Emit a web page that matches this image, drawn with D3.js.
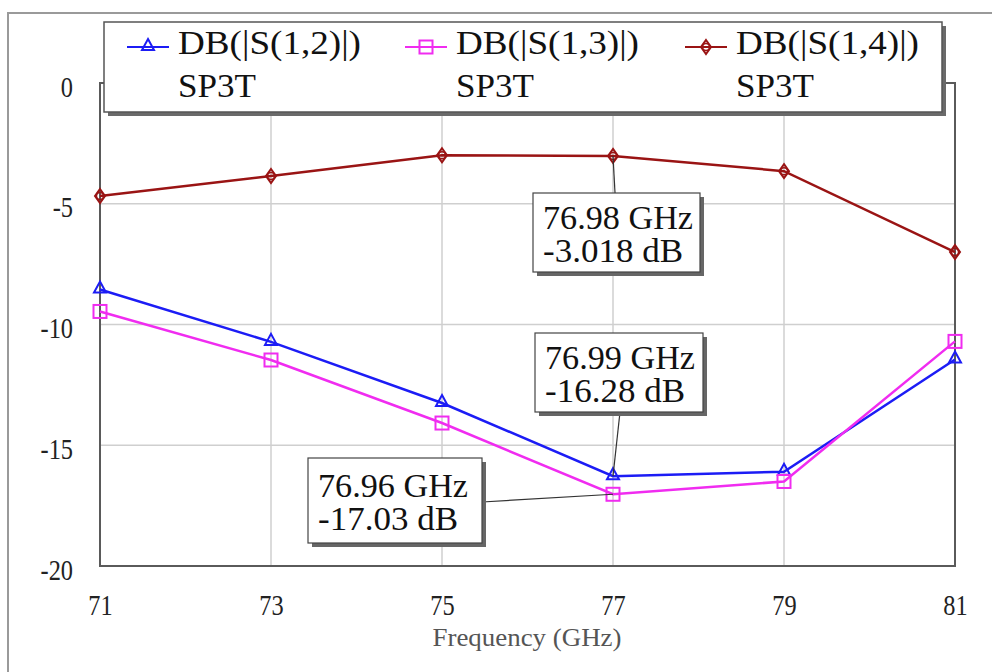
<!DOCTYPE html>
<html>
<head>
<meta charset="utf-8">
<script src="https://cdn.jsdelivr.net/npm/d3@7/dist/d3.min.js"></script>
<style>
  html, body { margin: 0; padding: 0; background: #fff; }
  svg { display: block; }
  text { font-family: "Liberation Serif", "Times New Roman", serif; }
</style>
</head>
<body>
<script>
// ---- Data ----
const freqs = [71, 73, 75, 77, 79, 81];
const s12 = [-8.55, -10.72, -13.25, -16.28, -16.1, -11.45];
const s13 = [-9.46, -11.47, -14.08, -17.03, -16.5, -10.7];
const s14 = [-4.68, -3.85, -2.99, -3.018, -3.65, -7.0];
const xTicks = [71, 73, 75, 77, 79, 81];
const yTicks = [0, -5, -10, -15, -20];
const seriesNames = ["DB(|S(1,2)|)", "DB(|S(1,3)|)", "DB(|S(1,4)|)"];
const seriesSub = ["SP3T", "SP3T", "SP3T"];
const markerLabels = [
  { series: 2, idx: 3, l1: "76.98 GHz", l2: "-3.018 dB" },
  { series: 0, idx: 3, l1: "76.99 GHz", l2: "-16.28 dB" },
  { series: 1, idx: 3, l1: "76.96 GHz", l2: "-17.03 dB" }
];
const xLabel = "Frequency (GHz)";

// ---- Layout ----
const W = 992, H = 672;
const L = 100, R = 955, T = 83, B = 566;
const colors = ["#1c1cf5", "#f02cf0", "#9a1414"];
const shapes = ["triangle", "square", "diamond"];
const allSeries = [s12, s13, s14];

const svg = d3.select("body").append("svg").attr("width", W).attr("height", H);

// outer frame
svg.append("path").attr("d", `M8,${H} L8,13 L${W},13`)
  .attr("fill", "none").attr("stroke", "#9a9a9a").attr("stroke-width", 2);

const x = d3.scaleLinear().domain([71, 81]).range([L, R]);
const y = d3.scaleLinear().domain([-20, 0]).range([B, T]);

// grid
svg.append("g").selectAll("line.v").data(xTicks.slice(1, -1)).join("line")
  .attr("x1", d => x(d)).attr("x2", d => x(d)).attr("y1", T).attr("y2", B)
  .attr("stroke", "#cfcfcf").attr("stroke-width", 1.5);
svg.append("g").selectAll("line.h").data(yTicks.slice(1, -1)).join("line")
  .attr("x1", L).attr("x2", R).attr("y1", d => y(d)).attr("y2", d => y(d))
  .attr("stroke", "#cfcfcf").attr("stroke-width", 1.5);

const fmt = d => String(d);

// axes (labels only)
const xAxis = svg.append("g").attr("transform", `translate(0,${B})`)
  .call(d3.axisBottom(x).tickValues(xTicks).tickSize(0).tickPadding(0).tickFormat(fmt))
  .attr("font-family", '"Liberation Serif", serif');
xAxis.select(".domain").remove();
xAxis.selectAll("text").attr("font-size", 29).attr("fill", "#222")
  .attr("dy", null).attr("y", 49);

const yAxis = svg.append("g").attr("transform", `translate(73,0)`)
  .call(d3.axisLeft(y).tickValues(yTicks).tickSize(0).tickPadding(0).tickFormat(fmt))
  .attr("font-family", '"Liberation Serif", serif');
yAxis.select(".domain").remove();
yAxis.selectAll("text").attr("font-size", 29).attr("fill", "#222")
  .attr("dy", null).attr("y", 13);

// condense tick labels slightly
svg.selectAll(".tick text").each(function () {
  const len = this.getComputedTextLength();
  d3.select(this).attr("textLength", len * 0.84).attr("lengthAdjust", "spacingAndGlyphs");
});

// x label
svg.append("text").attr("x", 527).attr("y", 646).attr("text-anchor", "middle")
  .attr("font-size", 26).attr("fill", "#555").attr("textLength", 189)
  .attr("lengthAdjust", "spacingAndGlyphs").text(xLabel);

// plot frame
svg.append("rect").attr("x", L).attr("y", T).attr("width", R - L).attr("height", B - T)
  .attr("fill", "none").attr("stroke", "#5a5a5a").attr("stroke-width", 2);

// marker drawing
function marker(g, shape, cx, cy, color) {
  if (shape === "triangle") {
    g.append("path").attr("d", `M${cx},${cy - 8} L${cx + 6},${cy + 3} L${cx - 6},${cy + 3} Z`)
      .attr("fill", "none").attr("stroke", color).attr("stroke-width", 2);
  } else if (shape === "square") {
    g.append("rect").attr("x", cx - 6.5).attr("y", cy - 6.5).attr("width", 13).attr("height", 13)
      .attr("fill", "none").attr("stroke", color).attr("stroke-width", 2);
  } else {
    g.append("path").attr("d", `M${cx},${cy - 7} L${cx + 5},${cy} L${cx},${cy + 7} L${cx - 5},${cy} Z`)
      .attr("fill", "none").attr("stroke", color).attr("stroke-width", 2);
    g.append("circle").attr("cx", cx).attr("cy", cy).attr("r", 3.5)
      .attr("fill", "none").attr("stroke", color).attr("stroke-width", 1.5);
  }
}

// series
const line = d3.line().x((d, i) => x(freqs[i])).y(d => y(d));
allSeries.forEach((s, k) => {
  const g = svg.append("g");
  g.append("path").datum(s).attr("d", line).attr("fill", "none")
    .attr("stroke", colors[k]).attr("stroke-width", 2.5);
  s.forEach((v, i) => marker(g, shapes[k], x(freqs[i]), y(v), colors[k]));
});

// legend
const lg = svg.append("g");
lg.append("rect").attr("x", 108).attr("y", 26).attr("width", 838).attr("height", 90).attr("fill", "#6a6a6a");
lg.append("rect").attr("x", 104).attr("y", 22).attr("width", 838).attr("height", 90)
  .attr("fill", "#fff").attr("stroke", "#555").attr("stroke-width", 1.5);
const legX = [127, 405, 685];
seriesNames.forEach((name, k) => {
  const lx = legX[k];
  lg.append("line").attr("x1", lx).attr("x2", lx + 42).attr("y1", 47).attr("y2", 47)
    .attr("stroke", colors[k]).attr("stroke-width", 2);
  marker(lg, shapes[k], lx + 21, 47, colors[k]);
  lg.append("text").attr("x", lx + 51).attr("y", 54).attr("font-size", 33).attr("fill", "#111")
    .attr("textLength", 183).attr("lengthAdjust", "spacingAndGlyphs").text(name);
  lg.append("text").attr("x", lx + 51).attr("y", 97).attr("font-size", 33).attr("fill", "#111")
    .attr("textLength", 78).attr("lengthAdjust", "spacingAndGlyphs").text(seriesSub[k]);
});

// annotation boxes
const boxes = [
  { x: 533, y: 193, w: 167, h: 79, ax: 615, ay: 193 },
  { x: 535, y: 333, w: 168, h: 79, ax: 620, ay: 412 },
  { x: 308, y: 458, w: 174, h: 85, ax: 482, ay: 502 }
];
markerLabels.forEach((m, i) => {
  const b = boxes[i];
  const px = x(freqs[m.idx]), py = y(allSeries[m.series][m.idx]);
  const g = svg.append("g");
  g.append("line").attr("x1", px).attr("y1", py).attr("x2", b.ax).attr("y2", b.ay)
    .attr("stroke", "#333").attr("stroke-width", 1.2);
  g.append("rect").attr("x", b.x + 4).attr("y", b.y + 4).attr("width", b.w).attr("height", b.h).attr("fill", "#666");
  g.append("rect").attr("x", b.x).attr("y", b.y).attr("width", b.w).attr("height", b.h)
    .attr("fill", "#fff").attr("stroke", "#444").attr("stroke-width", 1.2);
  const tx = b.x + 10;
  const base = b.y + (b.h > 80 ? 39 : 36);
  g.append("text").attr("x", tx).attr("y", base).attr("font-size", 33).attr("fill", "#111")
    .attr("textLength", 150).attr("lengthAdjust", "spacingAndGlyphs").text(m.l1);
  const w2 = m.l2.length === 9 ? 140 : 145;
  g.append("text").attr("x", tx).attr("y", base + 33).attr("font-size", 33).attr("fill", "#111")
    .attr("textLength", w2).attr("lengthAdjust", "spacingAndGlyphs").text(m.l2);
});
</script>
</body>
</html>
